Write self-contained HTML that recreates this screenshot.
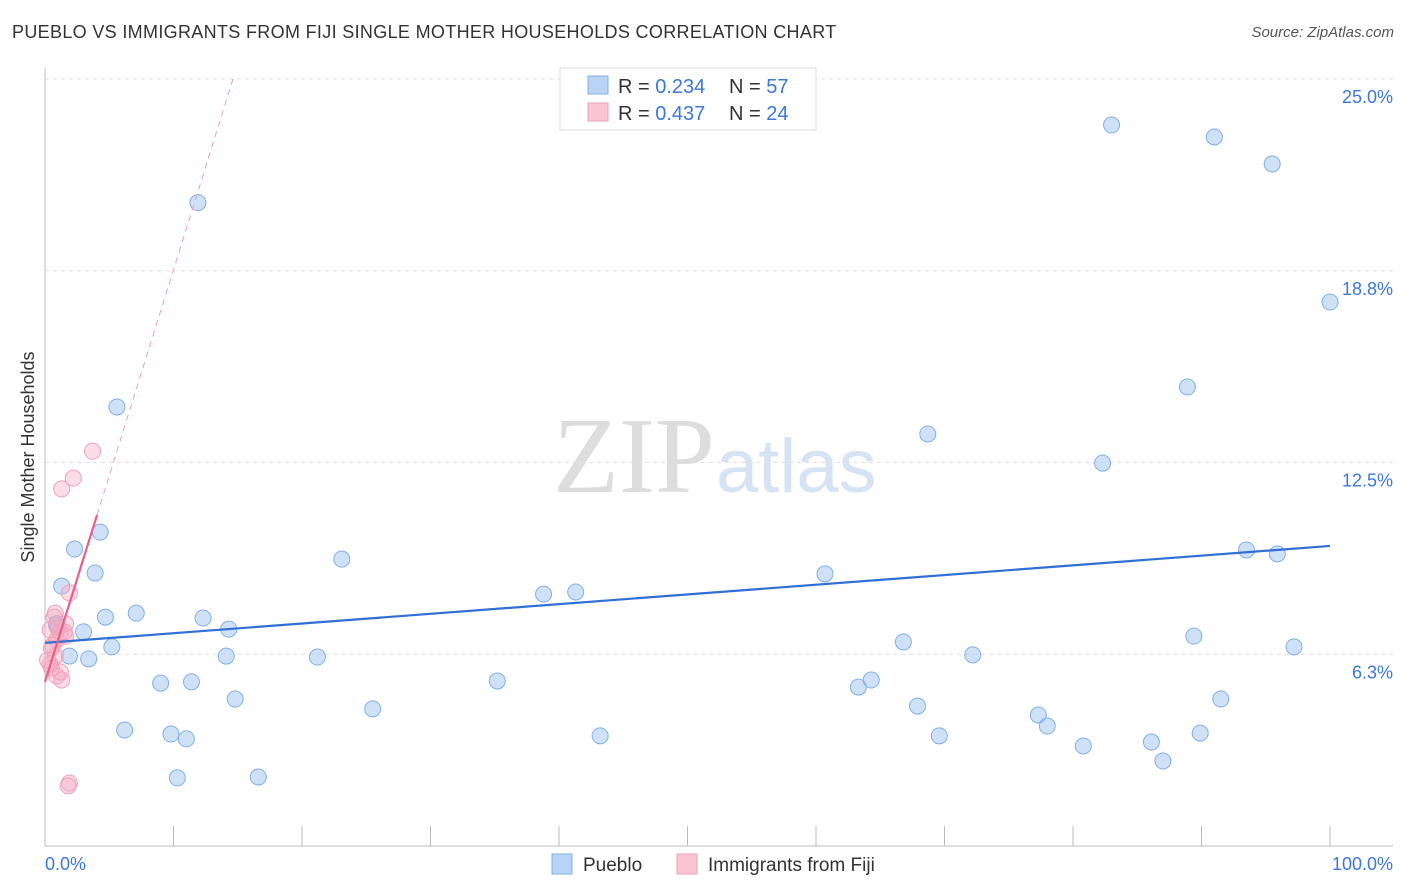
<!DOCTYPE html>
<html><head><meta charset="utf-8"><style>
body{margin:0;background:#fff;font-family:"Liberation Sans",sans-serif;}
#wrap{position:relative;width:1406px;height:892px;overflow:hidden;}
.t{position:absolute;white-space:nowrap;}
</style></head><body>
<div id="wrap">
<div class="t" style="left:12px;top:22px;font-size:18px;letter-spacing:0.33px;color:#333;">PUEBLO VS IMMIGRANTS FROM FIJI SINGLE MOTHER HOUSEHOLDS CORRELATION CHART</div>
<div class="t" style="right:12px;top:24px;font-size:15px;color:#555;font-style:italic;">Source: ZipAtlas.com</div>
<svg id="svg" width="1406" height="892" style="position:absolute;left:0;top:0"></svg>
</div>
<script>
const blueX=[11.9,5.6,4.3,2.3,1.3,3.9,4.7,7.1,3.0,0.9,1.9,3.4,5.2,12.3,14.3,14.1,9.0,11.4,14.8,6.2,9.8,11.0,10.3,16.6,23.1,21.2,25.5,35.2,38.8,41.3,43.2,60.7,66.8,63.3,64.3,68.7,67.9,69.6,72.2,77.3,78.0,80.8,82.3,83.0,86.1,87.0,88.9,89.4,89.9,91.0,91.5,93.5,95.5,95.9,97.2,100,0.9];
const blueY=[20.97,14.31,10.23,9.68,8.47,8.90,7.46,7.59,6.98,7.20,6.19,6.10,6.49,7.43,7.07,6.19,5.31,5.35,4.79,3.78,3.65,3.49,2.22,2.25,9.35,6.16,4.47,5.38,8.21,8.28,3.59,8.87,6.65,5.18,5.41,13.43,4.56,3.59,6.23,4.27,3.91,3.26,12.48,23.50,3.39,2.77,14.96,6.84,3.68,23.11,4.79,9.65,22.23,9.52,6.49,17.73,7.25];
const pinkX=[3.7,2.2,1.3,1.9,0.8,1.6,1.2,1.6,0.9,0.5,0.8,0.4,0.5,0.9,1.3,1.9,1.8,0.4,1.0,0.6,0.2,1.2,0.7,1.5];
const pinkY=[12.87,11.99,11.64,8.25,7.59,7.24,6.94,6.84,6.71,6.45,6.19,5.93,5.80,5.54,5.41,2.05,1.96,7.04,7.11,6.55,6.06,5.67,7.46,6.98];
const yTicks=[25.0,18.75,12.5,6.25];
const yTickLabels=["25.0%","18.8%","12.5%","6.3%"];
const blueLine=[6.62,9.78];
const pinkLine=[5.35,1.343];
const X=v=>45+v*12.85, Y=v=>846-v*30.68;
const svg=document.getElementById('svg');const NS='http://www.w3.org/2000/svg';
function el(tag,a,par){const e=document.createElementNS(NS,tag);for(const k in a)e.setAttribute(k,a[k]);(par||svg).appendChild(e);return e;}
yTicks.forEach((v,i)=>{const yy=Y(v);
const g=el('line',{x1:45,x2:1393,y1:yy,y2:yy,stroke:'#e0e0e0','stroke-dasharray':'4,4'});

const t=el('text',{x:1393,y:yy+24,'text-anchor':'end','font-size':18,fill:'#3c78d8','font-family':'Liberation Sans'});t.textContent=yTickLabels[i];
});
el('line',{x1:45,x2:45,y1:68,y2:846,stroke:'#bbb'});
el('line',{x1:45,x2:1393,y1:846,y2:846,stroke:'#bbb'});
for(let i=0;i<=10;i++){const tk=el('line',{x1:X(i*10),x2:X(i*10),y1:826,y2:846,stroke:'#bbb'});}
let t=el('text',{x:45,y:870,'font-size':18,fill:'#3c78d8'});t.textContent='0.0%';
t=el('text',{x:1393,y:870,'text-anchor':'end','font-size':18,fill:'#3c78d8'});t.textContent='100.0%';
t=el('text',{x:34,y:457,'text-anchor':'middle','font-size':18,fill:'#333',transform:'rotate(-90 34 457)'});t.textContent='Single Mother Households';
t=el('text',{x:715,y:492,'text-anchor':'end','font-size':108,fill:'#ddd','font-family':'Liberation Serif'});t.textContent='ZIP';
t=el('text',{x:716,y:492,'font-size':76,fill:'#d5e3f5'});t.textContent='atlas';
blueX.forEach((v,i)=>{const c=el('circle',{cx:X(v),cy:Y(blueY[i]),r:8,fill:'rgba(160,196,240,0.5)',stroke:'#80b0e8','stroke-width':1});
});
pinkX.forEach((v,i)=>{const c=el('circle',{cx:X(v),cy:Y(pinkY[i]),r:8,fill:'rgba(245,170,195,0.4)',stroke:'#f0a0b8','stroke-width':1});
});
let l=el('line',{x1:X(0),y1:Y(blueLine[0]),x2:X(100),y2:Y(blueLine[1]),stroke:'#2f6fd6','stroke-width':2.2});

l=el('line',{x1:X(0),y1:Y(pinkLine[0]),x2:X(4.05),y2:Y(pinkLine[0]+pinkLine[1]*4.05),stroke:'#e8608a','stroke-width':2.2});

const xEnd=(25-pinkLine[0])/pinkLine[1];
l=el('line',{x1:X(4.05),y1:Y(pinkLine[0]+pinkLine[1]*4.05),x2:X(xEnd),y2:Y(25),stroke:'#e8a0b8','stroke-width':1,'stroke-dasharray':'6,5'});

const lg=el('g',{});
el('rect',{x:560,y:68,width:256,height:62,fill:'#fff',stroke:'#ddd'},lg);
el('rect',{x:588,y:76,width:20,height:18,fill:'#b8d3f5',stroke:'#80b0e8'},lg);
el('rect',{x:588,y:103,width:20,height:18,fill:'#f9c5d5',stroke:'#f0a0b8'},lg);
[[93,'0.234','57'],[120,'0.437','24']].forEach(r=>{
let a=el('text',{x:618,y:r[0],'font-size':20,fill:'#333'},lg);a.innerHTML='R = <tspan fill="#3c78d8">'+r[1]+'</tspan>';
let b=el('text',{x:729,y:r[0],'font-size':20,fill:'#333'},lg);b.innerHTML='N = <tspan fill="#3c78d8">'+r[2]+'</tspan>';});
const bl=el('g',{});
el('rect',{x:552,y:854,width:20,height:20,fill:'#b8d3f5',stroke:'#80b0e8'},bl);
t=el('text',{x:583,y:871,'font-size':19,fill:'#333'},bl);t.textContent='Pueblo';
el('rect',{x:677,y:854,width:20,height:20,fill:'#f9c5d5',stroke:'#f0a0b8'},bl);
t=el('text',{x:708,y:871,'font-size':19,fill:'#333'},bl);t.textContent='Immigrants from Fiji';
</script>
</body></html>
